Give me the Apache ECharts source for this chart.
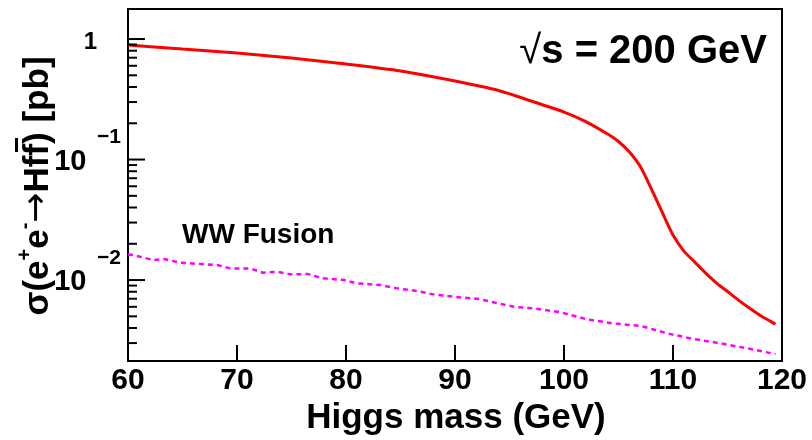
<!DOCTYPE html>
<html><head><meta charset="utf-8">
<script src="https://cdn.jsdelivr.net/npm/echarts@6/dist/echarts.min.js"></script>
<style>html,body{margin:0;padding:0;background:#fff}#c{width:812px;height:440px}</style>
</head><body><div id="c"></div>
<script>
// Higgs-strahlung (red solid)
const massHZ = [60,65,70,75,80,85,90,94,97,100,102,104,105,106,107,108,109,110,111,112,113,114,115,116,117,118,119,119.4];
const sigmaHZ = [0.892,0.826,0.765,0.696,0.620,0.543,0.448,0.3738,0.3058,0.2478,0.2067,0.1628,0.1411,0.1154,0.0874,0.0574,0.0367,0.02362,0.01740,0.01410,0.01143,0.00944,0.00803,0.00682,0.00586,0.00508,0.00452,0.00429];
// WW fusion (magenta dashed)
const massWW = [60,60.5,62.3,63.3,64.8,68.2,69.4,71.2,72.4,73.7,74.9,76.5,77.9,79.8,81.0,83.2,84.7,86.5,88.0,90.5,92.2,93.3,95.4,97.2,99.7,102.1,104.5,107.0,109.5,111.9,114.4,117.1,119.4];
const sigmaWW = [0.0163,0.01612,0.01466,0.01494,0.01392,0.01332,0.01250,0.01250,0.01150,0.01172,0.01115,0.01121,0.01033,0.01000,0.00939,0.00909,0.00853,0.00811,0.00761,0.00718,0.00696,0.00661,0.00600,0.00582,0.00540,0.00472,0.00437,0.00417,0.00361,0.00324,0.00298,0.00268,0.00243];
// y-axis ticks and labels
const yMajorTicks = [1, 0.1, 0.01];
const yMinorTicks = [0.9,0.8,0.7,0.6,0.5,0.4,0.3,0.2,0.09,0.08,0.07,0.06,0.05,0.04,0.03,0.02,0.009,0.008,0.007,0.006,0.005,0.004,0.003];
const yLabelBase = ['1','10','10'];
const yLabelExp = ['','\u22121','\u22122'];
const xMin = 60, xMax = 120, xStep = 10;
const yMin = 0.00213, yMax = 1.775;

const F = '"Liberation Sans", Arial, sans-serif';
const chart = echarts.init(document.getElementById('c'));
chart.setOption({
  animation: false,
  backgroundColor: '#fff',
  grid: {left: 128, right: 30, top: 9, bottom: 79, show: true, borderColor: '#000', borderWidth: 2, backgroundColor: 'transparent'},
  xAxis: {
    type: 'value', min: xMin, max: xMax, interval: xStep,
    axisLine: {lineStyle: {color: '#000', width: 2}},
    axisTick: {inside: true, length: 16, lineStyle: {color: '#000', width: 2}},
    axisLabel: {color: '#000', fontFamily: F, fontWeight: 'bold', fontSize: 30, margin: 20, verticalAlign: 'middle', showMinLabel: true, showMaxLabel: true},
    splitLine: {show: false}
  },
  yAxis: {
    type: 'log', logBase: 10, min: yMin, max: yMax,
    axisLine: {show: true, lineStyle: {color: '#000', width: 2}},
    axisTick: {show: false}, axisLabel: {show: false}, splitLine: {show: false}, minorTick: {show: false}
  },
  graphic: [
    {type: 'text', x: 767, y: 52, style: {text: '{r|\u221A}{b|s = 200 GeV}', align: 'right', verticalAlign: 'middle',
      rich: {r: {font: '40px ' + F, fill: '#000'}, b: {font: 'bold 40px ' + F, fill: '#000'}}}},
    {type: 'text', x: 182, y: 235, style: {text: 'WW Fusion', font: 'bold 28px ' + F, fill: '#000', align: 'left', verticalAlign: 'middle'}},
    {type: 'text', x: 456, y: 418, style: {text: 'Higgs mass (GeV)', font: 'bold 35px ' + F, fill: '#000', align: 'center', verticalAlign: 'middle'}},
    {type: 'text', x: 38, y: 186, rotation: Math.PI / 2, style: {
      text: '{n|\u03C3(e}{s|+}{n|e}{s|-}{a|\u2192}{n|Hff) [pb]}', align: 'center', verticalAlign: 'middle',
      rich: {
        n: {font: 'bold 35px ' + F, fill: '#000'},
        s: {font: 'bold 20px ' + F, fill: '#000', padding: [0, 0, 26, 0]},
        a: {font: '36px "DejaVu Sans"', fill: '#000'}
      }}},
    {type: 'rect', shape: {x: 15, y: 138, width: 3, height: 14}, style: {fill: '#000'}}
  ],
  series: [
    {type: 'line', data: massHZ.map((m, i) => [m, sigmaHZ[i]]), symbol: 'none', smooth: 0.25,
      lineStyle: {color: '#ff0000', width: 3}, z: 4},
    {type: 'line', data: massWW.map((m, i) => [m, sigmaWW[i]]), symbol: 'none', smooth: false,
      lineStyle: {color: '#ff00ff', width: 2.5, type: [5, 4]}, z: 3},
    {type: 'custom', silent: true, clip: false, z: 5,
      data: yMajorTicks.map(v => [xMin, v, 17]).concat(yMinorTicks.map(v => [xMin, v, 9])),
      encode: {x: 0, y: 1},
      renderItem: (params, api) => {
        const p = api.coord([api.value(0), api.value(1)]);
        const len = api.value(2);
        return {type: 'line', shape: {x1: p[0], y1: p[1], x2: p[0] + len, y2: p[1]}, style: {stroke: '#000', lineWidth: 2}};
      }},
    {type: 'custom', silent: true, clip: false, z: 5,
      data: yMajorTicks.map((v, i) => [xMin, v, i]),
      encode: {x: 0, y: 1},
      renderItem: (params, api) => {
        const p = api.coord([api.value(0), api.value(1)]);
        const i = api.value(2);
        if (!yLabelExp[i]) {
          return {type: 'text', x: p[0] - 31, y: p[1] + 3, style: {text: yLabelBase[i], font: 'bold 24px ' + F, fill: '#000', align: 'right', verticalAlign: 'middle'}};
        }
        return {type: 'group', children: [
          {type: 'text', x: p[0] - 41.5, y: p[1] + 2, style: {text: yLabelBase[i], font: 'bold 29px ' + F, fill: '#000', align: 'right', verticalAlign: 'middle'}},
          {type: 'text', x: p[0] - 31, y: p[1] - 22, style: {text: yLabelExp[i], font: 'bold 21px ' + F, fill: '#000', align: 'left', verticalAlign: 'middle'}}
        ]};
      }}
  ]
});
</script></body></html>
